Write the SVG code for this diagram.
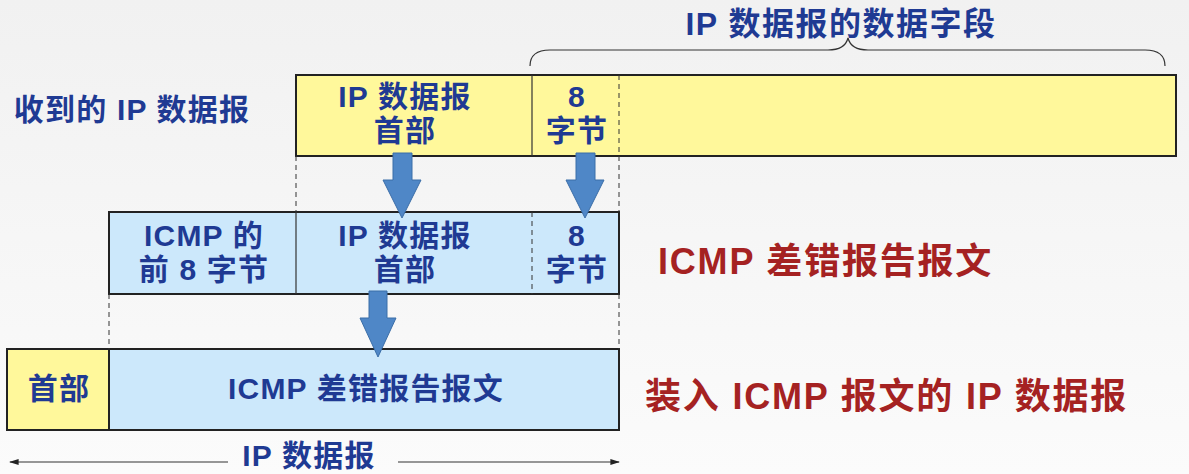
<svg xmlns="http://www.w3.org/2000/svg" width="1189" height="474" viewBox="0 0 1189 474">
<defs>
<style>
.t{font-family:"Liberation Sans","Noto Sans CJK SC",sans-serif;font-weight:bold;font-size:30px;letter-spacing:1.2px;fill:#1f3a93;text-anchor:middle}
.r{font-family:"Liberation Sans","Noto Sans CJK SC",sans-serif;font-weight:bold;font-size:36px;letter-spacing:1.8px;fill:#a52222}
.y{fill:#fff89b;stroke:#222;stroke-width:2}
.b{fill:#cce8fb;stroke:#222;stroke-width:2}
.d{stroke:#333;stroke-width:1;stroke-dasharray:5,4;fill:none}
.s{stroke:#333;stroke-width:1.2;fill:none}
.ar{fill:#4f87c7;stroke:#3b6ea8;stroke-width:1}
</style>
<marker id="ah" viewBox="0 0 10 10" refX="9" refY="5" markerWidth="8" markerHeight="8" orient="auto-start-reverse"><path d="M0,2 L10,5 L0,8 Z" fill="#222"/></marker>
<linearGradient id="bg" x1="0" y1="0" x2="0" y2="1"><stop offset="0" stop-color="#f1f1f1"/><stop offset="1" stop-color="#fbfbfb"/></linearGradient>
</defs>
<rect width="1189" height="474" fill="url(#bg)"/>

<g id="title">
<text class="t" x="841" y="35" style="font-size:32px;letter-spacing:1.5px">IP 数据报的数据字段</text>
<path class="s" d="M530,66 Q530,50 550,50 L828,50 Q845,50 848,38 Q851,50 868,50 L1145,50 Q1165,50 1165,66" stroke-width="1.5"/>
</g>

<g id="received-label"><text class="t" x="132" y="120">收到的 IP 数据报</text></g>

<g id="received-datagram">
<rect class="y" x="296" y="75" width="880" height="81"/>
<line class="s" x1="532" y1="75" x2="532" y2="156"/>
<line class="d" x1="619" y1="75" x2="619" y2="156"/>
<text class="t" x="405" y="107">IP 数据报</text>
<text class="t" x="405" y="141">首部</text>
<text class="t" x="577" y="107">8</text>
<text class="t" x="577" y="141">字节</text>
</g>

<g id="icmp-message">
<rect class="b" x="109" y="212" width="510" height="82"/>
<line class="s" x1="296" y1="212" x2="296" y2="294"/>
<line class="d" x1="532" y1="212" x2="532" y2="294"/>
<text class="t" x="204" y="246">ICMP 的</text>
<text class="t" x="204" y="280">前 8 字节</text>
<text class="t" x="405" y="246">IP 数据报</text>
<text class="t" x="405" y="280">首部</text>
<text class="t" x="577" y="246">8</text>
<text class="t" x="577" y="280">字节</text>
</g>

<g id="icmp-label"><text class="r" x="658" y="274">ICMP 差错报告报文</text></g>

<g id="ip-datagram">
<rect class="y" x="7" y="349" width="102" height="81"/>
<rect class="b" x="109" y="349" width="510" height="81"/>
<text class="t" x="59" y="399">首部</text>
<text class="t" x="366" y="399">ICMP 差错报告报文</text>
</g>

<g id="ip-label"><text class="r" x="645" y="409">装入 ICMP 报文的 IP 数据报</text></g>

<g id="connectors">
<line class="d" x1="296" y1="156" x2="296" y2="212"/>
<line class="d" x1="619" y1="156" x2="619" y2="212"/>
<line class="d" x1="109" y1="294" x2="109" y2="349"/>
<line class="d" x1="619" y1="294" x2="619" y2="349"/>
<path class="ar" d="M393,153 L412,153 L412,180 L421,180 L402,218 L383,180 L393,180 Z"/>
<path class="ar" d="M576,153 L595,153 L595,180 L604,180 L585,218 L566,180 L576,180 Z"/>
<path class="ar" d="M369,291 L387,291 L387,318 L396,318 L378,357 L360,318 L369,318 Z"/>
<line class="s" x1="228" y1="462" x2="10" y2="462" marker-end="url(#ah)"/>
<line class="s" x1="398" y1="462" x2="619" y2="462" marker-end="url(#ah)"/>
<text class="t" x="309" y="466">IP 数据报</text>
</g>
</svg>
